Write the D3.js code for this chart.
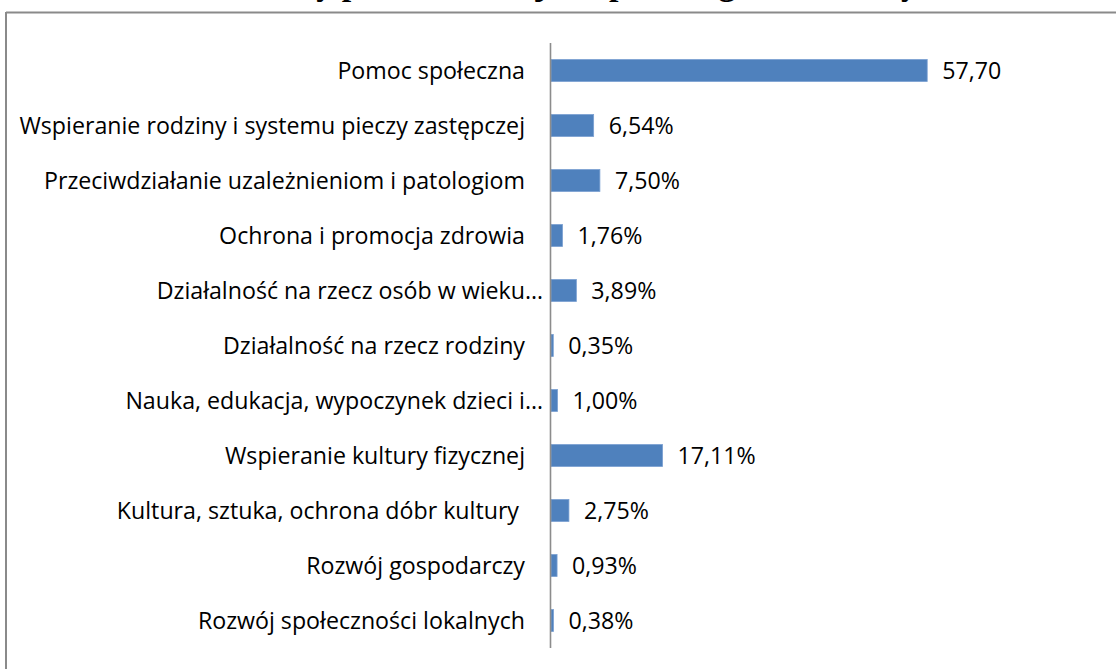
<!DOCTYPE html>
<html>
<head>
<meta charset="utf-8">
<script src="https://cdn.jsdelivr.net/npm/d3@7"></script>
<style>
  html, body { margin: 0; padding: 0; background: #fff; }
  svg { display: block; }
</style>
</head>
<body>
<svg id="chart" width="1116" height="669"></svg>
<script>
const title = "Procentowy podział dotacji na poszczególne obszary";
const categories = [
  "Pomoc społeczna",
  "Wspieranie rodziny i systemu pieczy zastępczej",
  "Przeciwdziałanie uzależnieniom i patologiom",
  "Ochrona i promocja zdrowia",
  "Działalność na rzecz osób w wieku…",
  "Działalność na rzecz rodziny",
  "Nauka, edukacja, wypoczynek dzieci i…",
  "Wspieranie kultury fizycznej",
  "Kultura, sztuka, ochrona dóbr kultury ",
  "Rozwój gospodarczy",
  "Rozwój społeczności lokalnych"
];
const values = [57.70, 6.54, 7.50, 1.76, 3.89, 0.35, 1.00, 17.11, 2.75, 0.93, 0.38];
const valueLabels = ["57,70", "6,54%", "7,50%", "1,76%", "3,89%", "0,35%", "1,00%", "17,11%", "2,75%", "0,93%", "0,38%"];

const data = categories.map((c, i) => ({ cat: c, v: values[i], lab: valueLabels[i] }));

const svg = d3.select("#chart");
const W = 1116, H = 669;
const font = "'Open Sans', Lato, sans-serif";

// frame
svg.append("line").attr("x1", 6).attr("x2", W).attr("y1", 12.5).attr("y2", 12.5)
  .attr("stroke", "#8a8a8a").attr("stroke-width", 2);
svg.append("line").attr("x1", 6).attr("x2", 6).attr("y1", 12).attr("y2", H)
  .attr("stroke", "#8a8a8a").attr("stroke-width", 2);

// title (cut off at top, like the reference)
svg.append("text").attr("x", 540).attr("y", -5)
  .attr("text-anchor", "middle")
  .attr("font-family", "'Liberation Serif', 'Times New Roman', serif")
  .attr("font-weight", "bold").attr("font-size", 34)
  .attr("fill", "#000").text(title);

const x0 = 551;
const x = d3.scaleLinear().domain([0, 70]).range([x0, x0 + 70 * 6.52]);
const y = d3.scaleBand().domain(categories).range([43, 648]).paddingInner(0.6).paddingOuter(0.3);

// bars
svg.append("g").selectAll("rect").data(data).join("rect")
  .attr("x", x(0))
  .attr("y", d => y(d.cat))
  .attr("width", d => Math.max(1, x(d.v) - x(0)))
  .attr("height", y.bandwidth())
  .attr("fill", "#4f81bd")
  .attr("stroke", "#7aa0d2").attr("stroke-width", 0.8);

// axis line
const yAxis = d3.axisLeft(y).tickSize(0).tickFormat("");
const ag = svg.append("g").attr("transform", `translate(${x0 - 0.5},0)`).call(yAxis);
ag.select(".domain").attr("stroke", "#8c8c8c").attr("stroke-width", 1.6)
  .attr("d", `M0,43V648`);

// category labels
const catG = svg.append("g");
const catTexts = catG.selectAll("text").data(data).join("text")
  .attr("x", d => d.cat.endsWith("…") ? 543 : 525)
  .attr("y", d => y(d.cat) + y.bandwidth() / 2)
  .attr("dy", "0.35em")
  .attr("text-anchor", "end")
  .attr("font-family", font)
  .attr("font-size", 20)
  .attr("fill", "#000")
  .style("white-space", "pre")
  .text(d => d.cat);

// fit font size so the longest label spans like the reference
const longest = catTexts.filter((d, i) => i === 1).node();
const w20 = longest.getComputedTextLength();
const fs = Math.max(16, Math.min(24, 20 * 506 / w20));
catTexts.attr("font-size", fs);

// value labels
svg.append("g").selectAll("text").data(data).join("text")
  .attr("x", d => x(d.v) + 15)
  .attr("y", d => y(d.cat) + y.bandwidth() / 2)
  .attr("dy", "0.35em")
  .attr("font-family", font)
  .attr("font-size", fs)
  .attr("fill", "#000")
  .text(d => d.lab);
</script>
</body>
</html>
